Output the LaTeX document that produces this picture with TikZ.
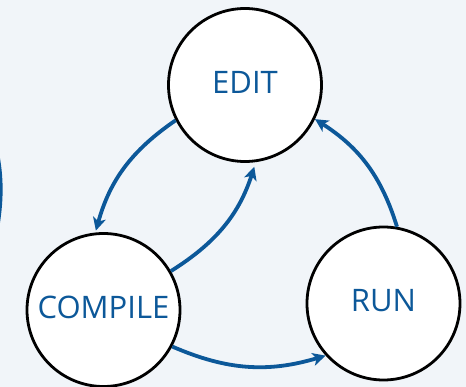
\documentclass[tikz,border=0pt]{standalone}
\usepackage{fontspec}
\setmainfont{Open Sans}
\usetikzlibrary{arrows.meta}
\definecolor{bg}{RGB}{241,245,249}
\definecolor{flowblue}{RGB}{12,88,153}
\tikzset{
  stage/.style={circle, draw=black, line width=2.8pt, fill=white, minimum size=153pt, inner sep=0pt,
    text=flowblue, font=\fontsize{31}{35}\selectfont, text depth=6pt},
  flow/.style={draw=flowblue, line width=3.8pt, -{Stealth[length=13pt,width=13pt,inset=3.5pt]}},
}
\begin{document}
\begin{tikzpicture}[x=1pt,y=-1pt]
\fill[bg] (0,0) rectangle (466,387);
\useasboundingbox (0,0) rectangle (466,387);
\draw[flowblue, line width=3pt] (-3,150) .. controls (2.5,178) and (2.5,200) .. (-3,232);
\node[stage] (edit) at (245,85) {EDIT};
\node[stage] (compile) at (103.5,310) {COMPILE};
\node[stage] (run) at (383.5,303.5) {RUN};
\draw[flow, shorten >=2pt] (edit.207) to[bend right=20] (compile.96);
\draw[flow, shorten >=5pt] (compile.30) to[bend right=20] (edit.278);
\draw[flow] (compile.-28) to[bend right=20] (run.222);
\draw[flow] (run.80) to[bend right=20] (edit.-26);
\end{tikzpicture}
\end{document}
